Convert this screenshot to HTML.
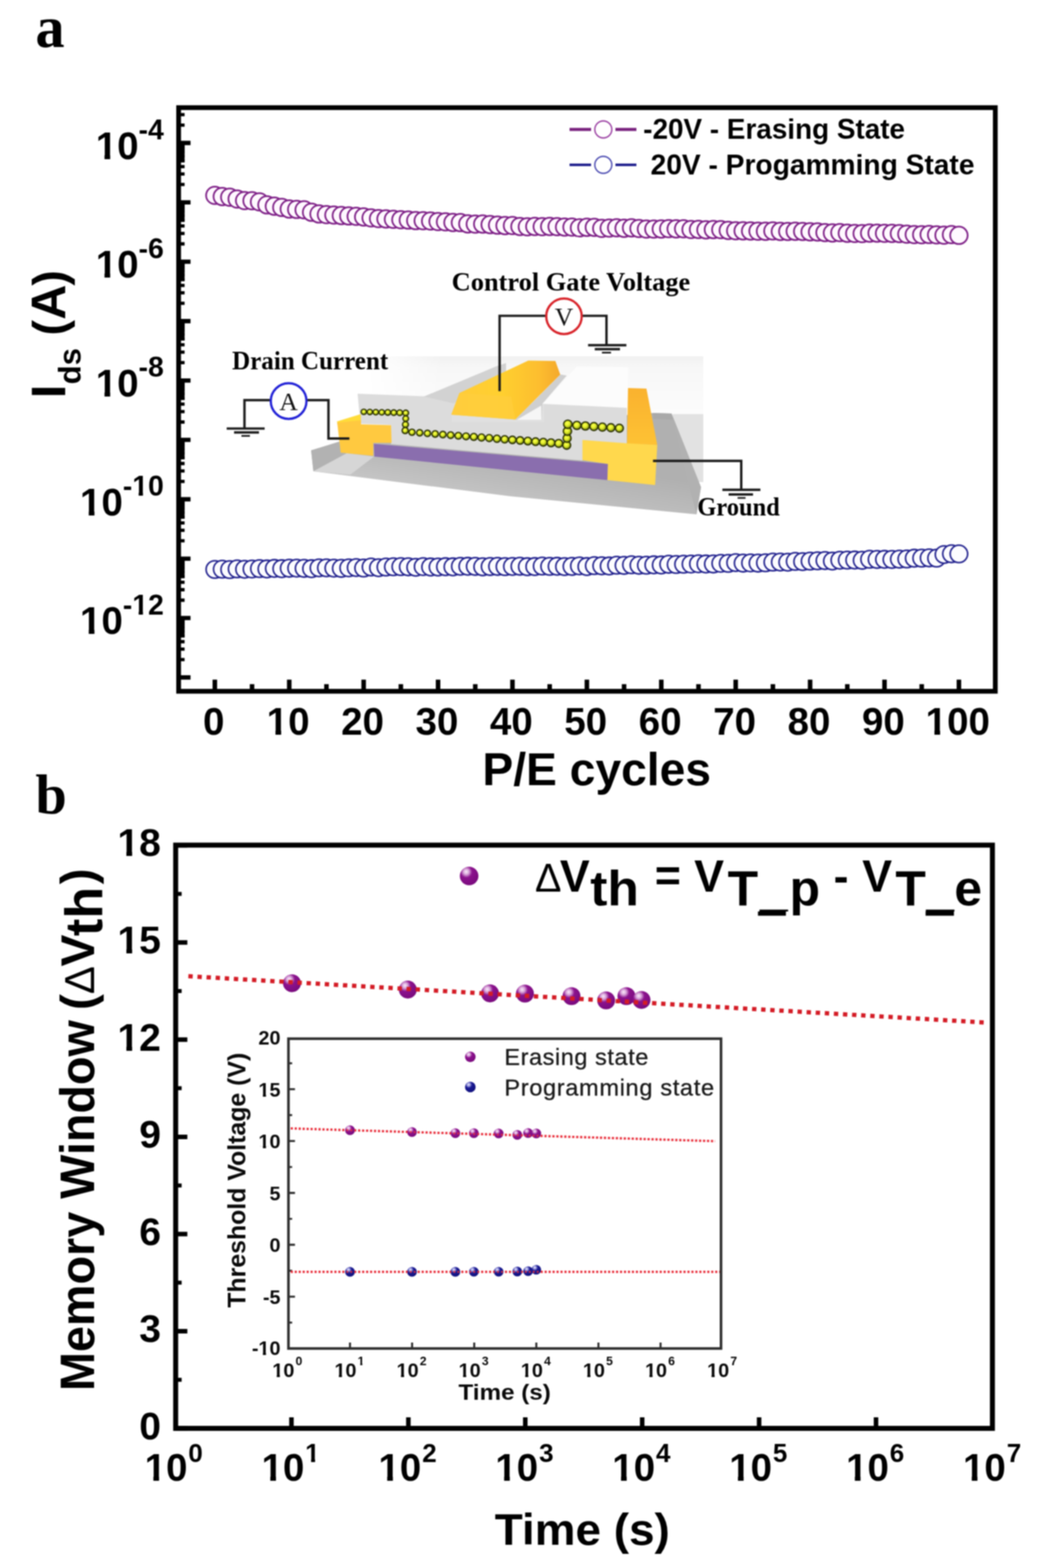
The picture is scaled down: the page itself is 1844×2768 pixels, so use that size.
<!DOCTYPE html>
<html lang="en">
<head>
<meta charset="utf-8">
<title>P/E cycle endurance and retention</title>
<style>
html,body{margin:0;padding:0;background:#fff;}
svg{display:block;}
.sb{font-family:"Liberation Sans",sans-serif;font-weight:700;fill:#000;}
.sr{font-family:"Liberation Sans",sans-serif;font-weight:400;fill:#111;}
.tb{font-family:"Liberation Serif",serif;font-weight:700;fill:#000;}
.tr{font-family:"Liberation Serif",serif;font-weight:400;fill:#111;}
</style>
</head>
<body>
<svg width="1844" height="2768" viewBox="0 0 1844 2768">
<rect x="0" y="0" width="1844" height="2768" fill="#ffffff"/>
<defs><filter id="soft" x="0" y="0" width="1844" height="2768" filterUnits="userSpaceOnUse" color-interpolation-filters="sRGB"><feGaussianBlur stdDeviation="0.85"/></filter></defs>
<g filter="url(#soft)">
<g id="panel-a">
<text class="tb" x="62.5" y="82.5" font-size="103">a</text>
<path d="M315.2 252.4H336.2M315.2 357.23H336.2M315.2 462.06H336.2M315.2 566.89H336.2M315.2 671.72H336.2M315.2 776.55H336.2M315.2 881.38H336.2M315.2 986.21H336.2M315.2 1091.04H336.2M315.2 1195.87H336.2" stroke="#000" stroke-width="7.6" fill="none"/>
<path d="M315.2 220.84H325.7M315.2 202.38H325.7M315.2 325.67H325.7M315.2 307.21H325.7M315.2 294.12H325.7M315.2 283.96H325.7M315.2 275.66H325.7M315.2 268.64H325.7M315.2 262.56H325.7M315.2 257.2H325.7M315.2 430.5H325.7M315.2 412.04H325.7M315.2 398.95H325.7M315.2 388.79H325.7M315.2 380.49H325.7M315.2 373.47H325.7M315.2 367.39H325.7M315.2 362.03H325.7M315.2 535.33H325.7M315.2 516.87H325.7M315.2 503.78H325.7M315.2 493.62H325.7M315.2 485.32H325.7M315.2 478.3H325.7M315.2 472.22H325.7M315.2 466.86H325.7M315.2 640.16H325.7M315.2 621.7H325.7M315.2 608.61H325.7M315.2 598.45H325.7M315.2 590.15H325.7M315.2 583.13H325.7M315.2 577.05H325.7M315.2 571.69H325.7M315.2 744.99H325.7M315.2 726.53H325.7M315.2 713.44H325.7M315.2 703.28H325.7M315.2 694.98H325.7M315.2 687.96H325.7M315.2 681.88H325.7M315.2 676.52H325.7M315.2 849.82H325.7M315.2 831.36H325.7M315.2 818.27H325.7M315.2 808.11H325.7M315.2 799.81H325.7M315.2 792.79H325.7M315.2 786.71H325.7M315.2 781.35H325.7M315.2 954.65H325.7M315.2 936.19H325.7M315.2 923.1H325.7M315.2 912.94H325.7M315.2 904.64H325.7M315.2 897.62H325.7M315.2 891.54H325.7M315.2 886.18H325.7M315.2 1059.48H325.7M315.2 1041.02H325.7M315.2 1027.93H325.7M315.2 1017.77H325.7M315.2 1009.47H325.7M315.2 1002.45H325.7M315.2 996.37H325.7M315.2 991.01H325.7M315.2 1164.31H325.7M315.2 1145.85H325.7M315.2 1132.76H325.7M315.2 1122.6H325.7M315.2 1114.3H325.7M315.2 1107.28H325.7M315.2 1101.2H325.7M315.2 1095.84H325.7" stroke="#000" stroke-width="5.8" fill="none"/>
<path d="M322.2 252.4V286.36M322.2 357.23V391.19M322.2 462.06V496.02M322.2 566.89V600.85M322.2 671.72V705.68M322.2 776.55V810.51M322.2 881.38V915.34M322.2 986.21V1020.17M322.2 1091.04V1125" stroke="#000" stroke-width="7" fill="none"/>
<path d="M379.1 1220.3V1199.8M510.4 1220.3V1199.8M641.7 1220.3V1199.8M773 1220.3V1199.8M904.3 1220.3V1199.8M1035.6 1220.3V1199.8M1166.9 1220.3V1199.8M1298.2 1220.3V1199.8M1429.5 1220.3V1199.8M1560.8 1220.3V1199.8M1692.1 1220.3V1199.8" stroke="#000" stroke-width="8" fill="none"/>
<path d="M444.75 1220.3V1207.8M576.05 1220.3V1207.8M707.35 1220.3V1207.8M838.65 1220.3V1207.8M969.95 1220.3V1207.8M1101.25 1220.3V1207.8M1232.55 1220.3V1207.8M1363.85 1220.3V1207.8M1495.15 1220.3V1207.8M1626.45 1220.3V1207.8" stroke="#000" stroke-width="8" fill="none"/>
<rect x="315.2" y="190" width="1441.1" height="1030.3" fill="none" stroke="#000" stroke-width="8.4"/>
<text class="sb" x="168.91" y="280.6" font-size="68">10<tspan font-size="50" dy="-34.5">-4</tspan></text><path d="M171.99 273.06H184.43V282H171.99ZM194.46 273.06H206.03V282H194.46Z" fill="#fff"/>
<text class="sb" x="168.91" y="490.26" font-size="68">10<tspan font-size="50" dy="-34.5">-6</tspan></text><path d="M171.99 482.72H184.43V491.66H171.99ZM194.46 482.72H206.03V491.66H194.46Z" fill="#fff"/>
<text class="sb" x="168.91" y="699.92" font-size="68">10<tspan font-size="50" dy="-34.5">-8</tspan></text><path d="M171.99 692.38H184.43V701.32H171.99ZM194.46 692.38H206.03V701.32H194.46Z" fill="#fff"/>
<text class="sb" x="141.1" y="909.58" font-size="68">10<tspan font-size="50" dy="-34.5">-10</tspan></text><path d="M144.18 902.04H156.62V910.98H144.18ZM166.65 902.04H178.22V910.98H166.65ZM235.33 869.38H244.7V876.48H235.33ZM252.27 869.38H261V876.48H252.27Z" fill="#fff"/>
<text class="sb" x="141.1" y="1119.24" font-size="68">10<tspan font-size="50" dy="-34.5">-12</tspan></text><path d="M144.18 1111.7H156.62V1120.64H144.18ZM166.65 1111.7H178.22V1120.64H166.65ZM235.33 1079.04H244.7V1086.14H235.33ZM252.27 1079.04H261V1086.14H252.27Z" fill="#fff"/>
<text class="sb" x="358.19" y="1297" font-size="68">0</text>
<text class="sb" x="470.58" y="1297" font-size="68">10</text><path d="M473.66 1289.46H486.1V1298.4H473.66ZM496.13 1289.46H507.71V1298.4H496.13Z" fill="#fff"/>
<text class="sb" x="601.88" y="1297" font-size="68">20</text>
<text class="sb" x="733.18" y="1297" font-size="68">30</text>
<text class="sb" x="864.48" y="1297" font-size="68">40</text>
<text class="sb" x="995.78" y="1297" font-size="68">50</text>
<text class="sb" x="1127.08" y="1297" font-size="68">60</text>
<text class="sb" x="1258.38" y="1297" font-size="68">70</text>
<text class="sb" x="1389.68" y="1297" font-size="68">80</text>
<text class="sb" x="1520.98" y="1297" font-size="68">90</text>
<text class="sb" x="1633.37" y="1297" font-size="68">100</text><path d="M1636.46 1289.46H1648.89V1298.4H1636.46ZM1658.92 1289.46H1670.5V1298.4H1658.92Z" fill="#fff"/>
<text class="sb" x="1053" y="1386" font-size="81.5" text-anchor="middle">P/E cycles</text>
<text class="sb" transform="translate(114.7 703) rotate(-90)" font-size="82"><tspan x="0" y="0" font-size="86">I</tspan><tspan x="24.5" y="27.7" font-size="55">ds</tspan> <tspan x="110.7" y="0">(</tspan><tspan x="138.6" y="0" font-size="86">A</tspan><tspan x="198.8" y="0">)</tspan></text>
<g id="series-prog" fill="#fcfcff" stroke="#22228e" stroke-width="2.8">
<circle cx="379.1" cy="1005.25" r="15.4"/><circle cx="392.23" cy="1004.77" r="15.4"/><circle cx="405.36" cy="1005.5" r="15.4"/><circle cx="418.49" cy="1004.29" r="15.4"/><circle cx="431.62" cy="1004.95" r="15.4"/><circle cx="444.75" cy="1004.48" r="15.4"/><circle cx="457.88" cy="1003.75" r="15.4"/><circle cx="471.01" cy="1004.39" r="15.4"/><circle cx="484.14" cy="1003.38" r="15.4"/><circle cx="497.27" cy="1003.92" r="15.4"/>
<circle cx="510.4" cy="1003.1" r="15.4"/><circle cx="523.53" cy="1002.96" r="15.4"/><circle cx="536.66" cy="1003.37" r="15.4"/><circle cx="549.79" cy="1003.9" r="15.4"/><circle cx="562.92" cy="1002.44" r="15.4"/><circle cx="576.05" cy="1002.43" r="15.4"/><circle cx="589.18" cy="1002.96" r="15.4"/><circle cx="602.31" cy="1003.35" r="15.4"/><circle cx="615.44" cy="1002.49" r="15.4"/><circle cx="628.57" cy="1001.97" r="15.4"/>
<circle cx="641.7" cy="1002.82" r="15.4"/><circle cx="654.83" cy="1000.95" r="15.4"/><circle cx="667.96" cy="1002.22" r="15.4"/><circle cx="681.09" cy="1001" r="15.4"/><circle cx="694.22" cy="1000.55" r="15.4"/><circle cx="707.35" cy="1000.31" r="15.4"/><circle cx="720.48" cy="1000.59" r="15.4"/><circle cx="733.61" cy="1001.44" r="15.4"/><circle cx="746.74" cy="1000.23" r="15.4"/><circle cx="759.87" cy="1000.89" r="15.4"/>
<circle cx="773" cy="1000.93" r="15.4"/><circle cx="786.13" cy="1000.38" r="15.4"/><circle cx="799.26" cy="1000.63" r="15.4"/><circle cx="812.39" cy="999.7" r="15.4"/><circle cx="825.52" cy="999.63" r="15.4"/><circle cx="838.65" cy="999.83" r="15.4"/><circle cx="851.78" cy="1000.62" r="15.4"/><circle cx="864.91" cy="1000.1" r="15.4"/><circle cx="878.04" cy="999.83" r="15.4"/><circle cx="891.17" cy="1000.25" r="15.4"/>
<circle cx="904.3" cy="999.94" r="15.4"/><circle cx="917.43" cy="999.59" r="15.4"/><circle cx="930.56" cy="1000.41" r="15.4"/><circle cx="943.69" cy="1000.16" r="15.4"/><circle cx="956.82" cy="999.27" r="15.4"/><circle cx="969.95" cy="999.79" r="15.4"/><circle cx="983.08" cy="999.63" r="15.4"/><circle cx="996.21" cy="1000.19" r="15.4"/><circle cx="1009.34" cy="999.85" r="15.4"/><circle cx="1022.47" cy="998.98" r="15.4"/>
<circle cx="1035.6" cy="1000.15" r="15.4"/><circle cx="1048.73" cy="998.53" r="15.4"/><circle cx="1061.86" cy="998.83" r="15.4"/><circle cx="1074.99" cy="999.16" r="15.4"/><circle cx="1088.12" cy="997.79" r="15.4"/><circle cx="1101.25" cy="998.11" r="15.4"/><circle cx="1114.38" cy="997.02" r="15.4"/><circle cx="1127.51" cy="997.87" r="15.4"/><circle cx="1140.64" cy="997.76" r="15.4"/><circle cx="1153.77" cy="997.13" r="15.4"/>
<circle cx="1166.9" cy="997.4" r="15.4"/><circle cx="1180.03" cy="996.1" r="15.4"/><circle cx="1193.16" cy="996.51" r="15.4"/><circle cx="1206.29" cy="996.04" r="15.4"/><circle cx="1219.42" cy="995.73" r="15.4"/><circle cx="1232.55" cy="995.24" r="15.4"/><circle cx="1245.68" cy="995.67" r="15.4"/><circle cx="1258.81" cy="995.59" r="15.4"/><circle cx="1271.94" cy="994.48" r="15.4"/><circle cx="1285.07" cy="994.56" r="15.4"/>
<circle cx="1298.2" cy="993.2" r="15.4"/><circle cx="1311.33" cy="994.09" r="15.4"/><circle cx="1324.46" cy="993.73" r="15.4"/><circle cx="1337.59" cy="994.09" r="15.4"/><circle cx="1350.72" cy="993.51" r="15.4"/><circle cx="1363.85" cy="992.28" r="15.4"/><circle cx="1376.98" cy="992.2" r="15.4"/><circle cx="1390.11" cy="992.44" r="15.4"/><circle cx="1403.24" cy="991.02" r="15.4"/><circle cx="1416.37" cy="991.46" r="15.4"/>
<circle cx="1429.5" cy="990.54" r="15.4"/><circle cx="1442.63" cy="990.07" r="15.4"/><circle cx="1455.76" cy="989.58" r="15.4"/><circle cx="1468.89" cy="990.47" r="15.4"/><circle cx="1482.02" cy="988.93" r="15.4"/><circle cx="1495.15" cy="988.76" r="15.4"/><circle cx="1508.28" cy="988.63" r="15.4"/><circle cx="1521.41" cy="989.11" r="15.4"/><circle cx="1534.54" cy="987.3" r="15.4"/><circle cx="1547.67" cy="987.58" r="15.4"/>
<circle cx="1560.8" cy="987.38" r="15.4"/><circle cx="1573.93" cy="987.59" r="15.4"/><circle cx="1587.06" cy="987.09" r="15.4"/><circle cx="1600.19" cy="986.82" r="15.4"/><circle cx="1613.32" cy="985.42" r="15.4"/><circle cx="1626.45" cy="985.32" r="15.4"/><circle cx="1639.58" cy="984.85" r="15.4"/><circle cx="1652.71" cy="985.32" r="15.4"/><circle cx="1665.84" cy="978.93" r="15.4"/><circle cx="1678.97" cy="977.62" r="15.4"/>
<circle cx="1692.1" cy="977.81" r="15.4"/>
</g>
<g id="series-erase" fill="#fff9ff" stroke="#7e2087" stroke-width="3.0">
<circle cx="379.1" cy="344.9" r="15.4"/><circle cx="392.23" cy="347" r="15.4"/><circle cx="405.36" cy="348.1" r="15.4"/><circle cx="418.49" cy="351.3" r="15.4"/><circle cx="431.62" cy="354.1" r="15.4"/><circle cx="444.75" cy="354.3" r="15.4"/><circle cx="457.88" cy="356.4" r="15.4"/><circle cx="471.01" cy="361.7" r="15.4"/><circle cx="484.14" cy="364" r="15.4"/><circle cx="497.27" cy="366.2" r="15.4"/>
<circle cx="510.4" cy="369" r="15.4"/><circle cx="523.53" cy="369.7" r="15.4"/><circle cx="536.66" cy="370.4" r="15.4"/><circle cx="549.79" cy="374.7" r="15.4"/><circle cx="562.92" cy="377.7" r="15.4"/><circle cx="576.05" cy="378.9" r="15.4"/><circle cx="589.18" cy="379.6" r="15.4"/><circle cx="602.31" cy="380.5" r="15.4"/><circle cx="615.44" cy="381.2" r="15.4"/><circle cx="628.57" cy="381.9" r="15.4"/>
<circle cx="641.7" cy="383" r="15.4"/><circle cx="654.83" cy="384.6" r="15.4"/><circle cx="667.96" cy="385.8" r="15.4"/><circle cx="681.09" cy="386.5" r="15.4"/><circle cx="694.22" cy="387.1" r="15.4"/><circle cx="707.35" cy="387.8" r="15.4"/><circle cx="720.48" cy="388.47" r="15.4"/><circle cx="733.61" cy="389.44" r="15.4"/><circle cx="746.74" cy="389.58" r="15.4"/><circle cx="759.87" cy="390.14" r="15.4"/>
<circle cx="773" cy="391.07" r="15.4"/><circle cx="786.13" cy="391.64" r="15.4"/><circle cx="799.26" cy="392.77" r="15.4"/><circle cx="812.39" cy="392.95" r="15.4"/><circle cx="825.52" cy="395.26" r="15.4"/><circle cx="838.65" cy="395.58" r="15.4"/><circle cx="851.78" cy="395.52" r="15.4"/><circle cx="864.91" cy="396.49" r="15.4"/><circle cx="878.04" cy="397.45" r="15.4"/><circle cx="891.17" cy="398.26" r="15.4"/>
<circle cx="904.3" cy="398.15" r="15.4"/><circle cx="917.43" cy="399.79" r="15.4"/><circle cx="930.56" cy="400.38" r="15.4"/><circle cx="943.69" cy="399.76" r="15.4"/><circle cx="956.82" cy="400.12" r="15.4"/><circle cx="969.95" cy="399.73" r="15.4"/><circle cx="983.08" cy="400.09" r="15.4"/><circle cx="996.21" cy="400.79" r="15.4"/><circle cx="1009.34" cy="400.92" r="15.4"/><circle cx="1022.47" cy="402.2" r="15.4"/>
<circle cx="1035.6" cy="401.26" r="15.4"/><circle cx="1048.73" cy="401.28" r="15.4"/><circle cx="1061.86" cy="403.16" r="15.4"/><circle cx="1074.99" cy="402.59" r="15.4"/><circle cx="1088.12" cy="402.09" r="15.4"/><circle cx="1101.25" cy="403" r="15.4"/><circle cx="1114.38" cy="402.26" r="15.4"/><circle cx="1127.51" cy="403.35" r="15.4"/><circle cx="1140.64" cy="404.35" r="15.4"/><circle cx="1153.77" cy="404.34" r="15.4"/>
<circle cx="1166.9" cy="404.23" r="15.4"/><circle cx="1180.03" cy="403.64" r="15.4"/><circle cx="1193.16" cy="404.02" r="15.4"/><circle cx="1206.29" cy="403.85" r="15.4"/><circle cx="1219.42" cy="405.13" r="15.4"/><circle cx="1232.55" cy="404.98" r="15.4"/><circle cx="1245.68" cy="405.74" r="15.4"/><circle cx="1258.81" cy="405.26" r="15.4"/><circle cx="1271.94" cy="405.39" r="15.4"/><circle cx="1285.07" cy="406.77" r="15.4"/>
<circle cx="1298.2" cy="407.4" r="15.4"/><circle cx="1311.33" cy="407.49" r="15.4"/><circle cx="1324.46" cy="407.73" r="15.4"/><circle cx="1337.59" cy="408.07" r="15.4"/><circle cx="1350.72" cy="408.25" r="15.4"/><circle cx="1363.85" cy="407.65" r="15.4"/><circle cx="1376.98" cy="408.5" r="15.4"/><circle cx="1390.11" cy="408.53" r="15.4"/><circle cx="1403.24" cy="408.26" r="15.4"/><circle cx="1416.37" cy="408.54" r="15.4"/>
<circle cx="1429.5" cy="409.26" r="15.4"/><circle cx="1442.63" cy="409.48" r="15.4"/><circle cx="1455.76" cy="410.53" r="15.4"/><circle cx="1468.89" cy="411.27" r="15.4"/><circle cx="1482.02" cy="410.61" r="15.4"/><circle cx="1495.15" cy="411.76" r="15.4"/><circle cx="1508.28" cy="412.12" r="15.4"/><circle cx="1521.41" cy="412.32" r="15.4"/><circle cx="1534.54" cy="411.52" r="15.4"/><circle cx="1547.67" cy="411.53" r="15.4"/>
<circle cx="1560.8" cy="411.8" r="15.4"/><circle cx="1573.93" cy="412.01" r="15.4"/><circle cx="1587.06" cy="412.29" r="15.4"/><circle cx="1600.19" cy="413.33" r="15.4"/><circle cx="1613.32" cy="414.12" r="15.4"/><circle cx="1626.45" cy="414.31" r="15.4"/><circle cx="1639.58" cy="413.96" r="15.4"/><circle cx="1652.71" cy="414.57" r="15.4"/><circle cx="1665.84" cy="415.13" r="15.4"/><circle cx="1678.97" cy="414.14" r="15.4"/>
<circle cx="1692.1" cy="415.47" r="15.4"/>
</g>
<g id="legend-a">
<path d="M1005 228.5H1043M1086 228.5H1123" stroke="#7a237f" stroke-width="5.5" fill="none"/>
<circle cx="1064.6" cy="228.5" r="15" fill="#fff" stroke="#9a3fa2" stroke-width="2.4"/>
<path d="M1005 291H1043M1086 291H1123" stroke="#1c1c8c" stroke-width="4.6" fill="none"/>
<circle cx="1064.6" cy="291" r="15" fill="#fff" stroke="#4a4ab0" stroke-width="2.4"/>
<text class="sb" x="1135" y="245" font-size="49.2">-20V - Erasing State</text>
<text class="sb" x="1148" y="307.5" font-size="49.7">20V - Progamming State</text>
</g>
</g>
<g id="device">
<defs>
<linearGradient id="gBg" x1="0" y1="0" x2="0" y2="1"><stop offset="0" stop-color="#f1f1f1"/><stop offset="0.1" stop-color="#f7f7f7"/><stop offset="0.6" stop-color="#fdfdfd"/><stop offset="1" stop-color="#ffffff"/></linearGradient>
<linearGradient id="gBgL" x1="0" y1="0" x2="1" y2="0"><stop offset="0" stop-color="#fff" stop-opacity="1"/><stop offset="1" stop-color="#fff" stop-opacity="0"/></linearGradient>
<linearGradient id="gGate" x1="0" y1="0" x2="1" y2="0"><stop offset="0" stop-color="#ffcb3a"/><stop offset="0.45" stop-color="#ffd02f"/><stop offset="0.8" stop-color="#fdbe2f"/><stop offset="1" stop-color="#f4a92c"/></linearGradient>
<linearGradient id="gTall" x1="0" y1="0" x2="0" y2="1"><stop offset="0" stop-color="#fab22f"/><stop offset="1" stop-color="#fec234"/></linearGradient>
<radialGradient id="gDot" cx="0.42" cy="0.38" r="0.62"><stop offset="0" stop-color="#faff55"/><stop offset="0.45" stop-color="#e4f02a"/><stop offset="0.8" stop-color="#9aa818"/><stop offset="1" stop-color="#4a5308"/></radialGradient>
<linearGradient id="gBase" gradientUnits="userSpaceOnUse" x1="800" y1="780" x2="780" y2="900"><stop offset="0" stop-color="#b0b0b0"/><stop offset="0.45" stop-color="#bcbcbc"/><stop offset="1" stop-color="#cdcdcd"/></linearGradient>
</defs>
<rect x="650" y="629" width="591" height="190" fill="url(#gBg)"/>
<rect x="650" y="629" width="130" height="190" fill="url(#gBgL)"/>
<rect x="1187" y="731" width="54" height="120" fill="#e2e2e2"/>
<polygon points="958.9,712.5 1017.9,646.9 1108.9,648.2 1107.6,719.2" fill="#fcfcfc"/>
<polygon points="549,795 600,779 760,760 1152,729 1185,730 1237,860 1229,908 900,876 553,832" fill="url(#gBase)"/>
<polygon points="549,795 597,781 612,800 553,832" fill="#b2b2b2"/>
<polygon points="553,832 612,800 660,806 618,838" fill="#d6d6d6"/>
<polygon points="1152,729 1185,730 1188,741 1152,739.5" fill="#a9a9a9"/>
<polygon points="1185,730 1237,860 1229,908 1217,862" fill="#b1b1b1"/>
<polygon points="631,695 760,700 875,647 893,641 893,668 812,712 960,713 1106,720 1106,784 1028,777 1028,813 690,784 690,750 636,748 633,717" fill="#dcdcdc"/>
<polygon points="748,700 875,647 893,641 893,664 800,712" fill="#d2d2d2"/>
<polygon points="797,732 909,741 955,741 955,713 960,713 960,745 797,745" fill="#e0e0e0"/>
<polygon points="909,741 989,661 1000,663 957,713 955,741" fill="#cfcfcf"/>
<polygon points="912,741 955,716 955,741" fill="#f6f6f6"/>
<polygon points="796.4,732 810.7,693.8 932.2,636.4 980,637.3 988.6,661.2 909.2,740.6" fill="url(#gGate)"/>
<polygon points="796.4,732 810.7,693.8 902,700 909.2,740.6" fill="#ffcd3e" opacity="0.75"/>
<polygon points="659.6,783.4 1072.8,818.9 1071.8,847.6 660.5,806" fill="#8a6eae"/>
<polygon points="594.5,744 636.6,731 637,748 597,754" fill="#ffdc3a"/>
<polygon points="595,746 637,742 637,749 690,750.5 691,781.8 658.6,781.8 658.6,804.8 601.2,799" fill="#ffc940"/>
<polygon points="1108.2,685 1140.7,685.9 1159.8,785.4 1106.3,783.5" fill="url(#gTall)"/>
<polygon points="1027.8,776.8 1105.3,782.5 1159.8,785.4 1156,856.2 1071.8,847.6 1072.8,818.9 1027.8,812.2" fill="#ffd84d"/>
<g fill="url(#gDot)" stroke="#2c3204" stroke-width="2.3">
<circle cx="642" cy="727" r="4.7"/><circle cx="652.6" cy="727.3" r="4.7"/><circle cx="663.1" cy="727.6" r="4.8"/><circle cx="673.7" cy="727.9" r="4.8"/><circle cx="684.3" cy="728.1" r="4.9"/><circle cx="694.9" cy="728.4" r="4.9"/><circle cx="705.4" cy="728.7" r="5"/><circle cx="716" cy="729" r="5"/>
<circle cx="716" cy="739" r="5"/><circle cx="715.5" cy="749.5" r="5.2"/><circle cx="715" cy="760" r="5.4"/>
<circle cx="727" cy="763" r="5.4"/><circle cx="740.6" cy="764" r="5.5"/><circle cx="754.3" cy="765.1" r="5.6"/><circle cx="767.9" cy="766.1" r="5.7"/><circle cx="781.5" cy="767.2" r="5.7"/><circle cx="795.2" cy="768.2" r="5.8"/><circle cx="808.8" cy="769.3" r="5.9"/><circle cx="822.4" cy="770.3" r="6"/><circle cx="836.1" cy="771.3" r="6.1"/><circle cx="849.7" cy="772.4" r="6.2"/><circle cx="863.3" cy="773.4" r="6.2"/><circle cx="876.9" cy="774.5" r="6.3"/><circle cx="890.6" cy="775.5" r="6.4"/><circle cx="904.2" cy="776.5" r="6.5"/><circle cx="917.8" cy="777.6" r="6.6"/><circle cx="931.5" cy="778.6" r="6.7"/><circle cx="945.1" cy="779.7" r="6.7"/><circle cx="958.7" cy="780.7" r="6.8"/><circle cx="972.4" cy="781.8" r="6.9"/><circle cx="986" cy="782.8" r="7"/>
<circle cx="1000" cy="786" r="7"/><circle cx="1000.7" cy="773.7" r="7.1"/><circle cx="1001.3" cy="761.3" r="7.3"/><circle cx="1002" cy="749" r="7.4"/>
<circle cx="1018" cy="751" r="7.2"/><circle cx="1033" cy="752" r="7.2"/><circle cx="1048" cy="753" r="7.1"/><circle cx="1063" cy="754" r="7.1"/><circle cx="1078" cy="755" r="7"/><circle cx="1093" cy="756" r="7"/>
</g>
<g fill="none" stroke="#1a1a1a" stroke-width="4.2">
<path d="M476 706.3H431.4V756.5M400 756.5H467M413 763.3H457" />
<path d="M426 769.5H441" stroke-width="3"/>
<path d="M542 706.3H579.6V774.2H616.5"/>
<path d="M962 557.5H881.6V690.5"/>
<path d="M1028 557.5H1070.2V609.4M1037.7 609.4H1105.3M1049.5 616.4H1094"/>
<path d="M1062.2 622.5H1078.2" stroke-width="3"/>
<path d="M1152.3 813.6H1308V864.6M1274.7 864.6H1341.8M1285.7 872.8H1328.8"/>
<path d="M1301.5 879H1315.6" stroke-width="3"/>
</g>
<circle cx="509.3" cy="708" r="31.5" fill="#fff" stroke="#2121d6" stroke-width="4"/>
<text class="tr" x="509.3" y="723.5" font-size="45" text-anchor="middle">A</text>
<circle cx="995.2" cy="558.4" r="31.3" fill="#fff" stroke="#d8232a" stroke-width="4"/>
<text class="tr" x="995.2" y="574" font-size="45" text-anchor="middle">V</text>
<text class="tb" x="797" y="513" font-size="45.5" textLength="421" lengthAdjust="spacingAndGlyphs">Control Gate Voltage</text>
<text class="tb" x="409.5" y="652" font-size="45.5" textLength="275.5" lengthAdjust="spacingAndGlyphs">Drain Current</text>
<text class="tb" x="1230.5" y="910" font-size="45.5" textLength="145.5" lengthAdjust="spacingAndGlyphs">Ground</text>
</g>
<g id="panel-b">
<defs>
<radialGradient id="gP" cx="0.36" cy="0.30" r="0.75" fx="0.34" fy="0.27"><stop offset="0" stop-color="#fbeefb"/><stop offset="0.2" stop-color="#d8a4d9"/><stop offset="0.42" stop-color="#8b128d"/><stop offset="1" stop-color="#780a7c"/></radialGradient>
<radialGradient id="gN" cx="0.36" cy="0.30" r="0.75" fx="0.34" fy="0.27"><stop offset="0" stop-color="#eeeefc"/><stop offset="0.2" stop-color="#9a9ade"/><stop offset="0.42" stop-color="#1a1a92"/><stop offset="1" stop-color="#10107c"/></radialGradient>
</defs>
<text class="tb" x="62.5" y="1435.5" font-size="99.5">b</text>
<path d="M310 2521.5H330.6M310 2349.96H330.6M310 2178.42H330.6M310 2006.88H330.6M310 1835.34H330.6M310 1663.8H330.6M310 1492.26H330.6M514.3 2521.5V2502M720.6 2521.5V2502M926.9 2521.5V2502M1133.2 2521.5V2502M1339.5 2521.5V2502M1545.8 2521.5V2502" stroke="#000" stroke-width="8" fill="none"/>
<path d="M310 2435.73H320.5M310 2264.19H320.5M310 2092.65H320.5M310 1921.11H320.5M310 1749.57H320.5M310 1578.03H320.5" stroke="#000" stroke-width="7" fill="none"/>
<rect x="310" y="1491.9" width="1441.2" height="1029.6" fill="none" stroke="#000" stroke-width="8.8"/>
<text class="sb" x="245.63" y="2540.7" font-size="69">0</text>
<text class="sb" x="245.63" y="2369.16" font-size="69">3</text>
<text class="sb" x="245.63" y="2197.62" font-size="69">6</text>
<text class="sb" x="245.63" y="2026.08" font-size="69">9</text>
<text class="sb" x="207.25" y="1854.54" font-size="69">12</text><path d="M210.4 1846.9H223.01V1855.94H210.4ZM233.17 1846.9H244.91V1855.94H233.17Z" fill="#fff"/>
<text class="sb" x="207.25" y="1683" font-size="69">15</text><path d="M210.4 1675.36H223.01V1684.4H210.4ZM233.17 1675.36H244.91V1684.4H233.17Z" fill="#fff"/>
<text class="sb" x="207.25" y="1511.46" font-size="69">18</text><path d="M210.4 1503.82H223.01V1512.86H210.4ZM233.17 1503.82H244.91V1512.86H233.17Z" fill="#fff"/>
<text class="sb" x="255.14" y="2614.3" font-size="68">10<tspan font-size="46" dx="1.5" dy="-33.5">0</tspan></text><path d="M258.22 2606.76H270.66V2615.7H258.22ZM280.69 2606.76H292.27V2615.7H280.69Z" fill="#fff"/>
<text class="sb" x="461.44" y="2614.3" font-size="68">10<tspan font-size="46" dx="1.5" dy="-33.5">1</tspan></text><path d="M464.52 2606.76H476.96V2615.7H464.52ZM486.99 2606.76H498.57V2615.7H486.99ZM540.27 2575.51H548.96V2582.2H540.27ZM555.97 2575.51H564.08V2582.2H555.97Z" fill="#fff"/>
<text class="sb" x="667.74" y="2614.3" font-size="68">10<tspan font-size="46" dx="1.5" dy="-33.5">2</tspan></text><path d="M670.82 2606.76H683.26V2615.7H670.82ZM693.29 2606.76H704.87V2615.7H693.29Z" fill="#fff"/>
<text class="sb" x="874.04" y="2614.3" font-size="68">10<tspan font-size="46" dx="1.5" dy="-33.5">3</tspan></text><path d="M877.12 2606.76H889.56V2615.7H877.12ZM899.59 2606.76H911.17V2615.7H899.59Z" fill="#fff"/>
<text class="sb" x="1080.34" y="2614.3" font-size="68">10<tspan font-size="46" dx="1.5" dy="-33.5">4</tspan></text><path d="M1083.42 2606.76H1095.86V2615.7H1083.42ZM1105.89 2606.76H1117.47V2615.7H1105.89Z" fill="#fff"/>
<text class="sb" x="1286.64" y="2614.3" font-size="68">10<tspan font-size="46" dx="1.5" dy="-33.5">5</tspan></text><path d="M1289.72 2606.76H1302.16V2615.7H1289.72ZM1312.19 2606.76H1323.77V2615.7H1312.19Z" fill="#fff"/>
<text class="sb" x="1492.94" y="2614.3" font-size="68">10<tspan font-size="46" dx="1.5" dy="-33.5">6</tspan></text><path d="M1496.02 2606.76H1508.46V2615.7H1496.02ZM1518.49 2606.76H1530.07V2615.7H1518.49Z" fill="#fff"/>
<text class="sb" x="1699.24" y="2614.3" font-size="68">10<tspan font-size="46" dx="1.5" dy="-33.5">7</tspan></text><path d="M1702.32 2606.76H1714.76V2615.7H1702.32ZM1724.79 2606.76H1736.37V2615.7H1724.79Z" fill="#fff"/>
<text class="sb" x="1027.5" y="2727" font-size="78" text-anchor="middle" textLength="309" lengthAdjust="spacingAndGlyphs">Time (s)</text>
<text class="sb" transform="translate(166 2455.5) rotate(-90)" font-size="84"><tspan x="0" y="0" font-size="85.5" textLength="654.7" lengthAdjust="spacingAndGlyphs">Memory Window</tspan> <tspan x="672.5" y="0">(</tspan><tspan x="700.5" y="0" font-size="74" font-weight="400">Δ</tspan><tspan x="749.5" y="0">V</tspan><tspan x="803" y="13.5" font-size="92">th</tspan><tspan x="894.5" y="0">)</tspan></text>
<g id="retention-points">
<circle cx="515.2" cy="1735.7" r="15.8" fill="url(#gP)"/><circle cx="719.6" cy="1746.9" r="15.8" fill="url(#gP)"/><circle cx="864.7" cy="1753.6" r="15.8" fill="url(#gP)"/><circle cx="926.3" cy="1754" r="15.8" fill="url(#gP)"/><circle cx="1008.5" cy="1758.5" r="15.8" fill="url(#gP)"/><circle cx="1105.4" cy="1758.5" r="15.8" fill="url(#gP)"/><circle cx="1069.6" cy="1766" r="15.8" fill="url(#gP)"/><circle cx="1132" cy="1765.2" r="15.8" fill="url(#gP)"/>
</g>
<path d="M332.4 1723.3L1743 1805.3" stroke="#d41c26" stroke-width="7.5" stroke-dasharray="7.7 8.37" fill="none"/>
<circle cx="827.8" cy="1546.3" r="16.4" fill="url(#gP)"/>
<text class="sb" font-size="78.8"><tspan x="944" y="1573.5" font-size="70" font-weight="400">Δ</tspan><tspan x="988" y="1574">V</tspan><tspan x="1041.5" y="1598" font-size="88" textLength="86" lengthAdjust="spacingAndGlyphs">th</tspan> <tspan x="1155.5" y="1572">=</tspan> <tspan x="1225" y="1574">V</tspan><tspan x="1284" y="1597.5" font-size="88" textLength="163" lengthAdjust="spacing">T_p</tspan> <tspan x="1471" y="1574">-</tspan> <tspan x="1521.5" y="1574">V</tspan><tspan x="1580" y="1597.5" font-size="88" textLength="153" lengthAdjust="spacing">T_e</tspan></text>
<path d="M1337.5 1612.8H1386.8M1633.3 1612.8H1683.3" stroke="#000" stroke-width="7.4" fill="none"/>
</g>
<g id="inset">
<rect x="509" y="1833.6" width="763.3" height="546.9" fill="#fff" stroke="#2e2e2e" stroke-width="4.6"/>
<path d="M509 2288.95H520.5M509 2197.4H520.5M509 2105.85H520.5M509 2014.3H520.5M509 1922.75H520.5M617.6 2380.5V2370M727.2 2380.5V2370M836.8 2380.5V2370M946.4 2380.5V2370M1056 2380.5V2370M1165.6 2380.5V2370" stroke="#2e2e2e" stroke-width="3.6" fill="none"/>
<path d="M509 2334.72H515.5M509 2243.18H515.5M509 2151.62H515.5M509 2060.08H515.5M509 1968.53H515.5M509 1876.98H515.5" stroke="#2e2e2e" stroke-width="3.4" fill="none"/>
<text class="sb" x="444.41" y="2391.5" font-size="35" style="fill:#0a0a0a">-10</text><path d="M457.07 2387.33H463.89V2392.9H457.07ZM469.39 2387.33H475.76V2392.9H469.39Z" fill="#fff"/>
<text class="sb" x="463.88" y="2301.95" font-size="35" style="fill:#0a0a0a">-5</text>
<text class="sb" x="475.53" y="2210.4" font-size="35" style="fill:#0a0a0a">0</text>
<text class="sb" x="475.53" y="2118.85" font-size="35" style="fill:#0a0a0a">5</text>
<text class="sb" x="456.07" y="2027.3" font-size="35" style="fill:#0a0a0a">10</text><path d="M457.07 2023.13H463.89V2028.7H457.07ZM469.39 2023.13H475.76V2028.7H469.39Z" fill="#fff"/>
<text class="sb" x="456.07" y="1935.75" font-size="35" style="fill:#0a0a0a">15</text><path d="M457.07 1931.58H463.89V1937.15H457.07ZM469.39 1931.58H475.76V1937.15H469.39Z" fill="#fff"/>
<text class="sb" x="456.07" y="1844.2" font-size="35" style="fill:#0a0a0a">20</text>
<text class="sb" x="480.56" y="2431" font-size="35" style="fill:#0a0a0a">10<tspan font-size="21.5" dx="2" dy="-21">0</tspan></text><path d="M481.56 2426.83H488.37V2432.4H481.56ZM493.88 2426.83H500.25V2432.4H493.88Z" fill="#fff"/>
<text class="sb" x="590.16" y="2431" font-size="35" style="fill:#0a0a0a">10<tspan font-size="21.5" dx="2" dy="-21">1</tspan></text><path d="M591.16 2426.83H597.97V2432.4H591.16ZM603.48 2426.83H609.85V2432.4H603.48ZM631.24 2407.21H635.75V2411.4H631.24ZM639.4 2407.21H643.65V2411.4H639.4Z" fill="#fff"/>
<text class="sb" x="699.76" y="2431" font-size="35" style="fill:#0a0a0a">10<tspan font-size="21.5" dx="2" dy="-21">2</tspan></text><path d="M700.76 2426.83H707.57V2432.4H700.76ZM713.08 2426.83H719.45V2432.4H713.08Z" fill="#fff"/>
<text class="sb" x="809.36" y="2431" font-size="35" style="fill:#0a0a0a">10<tspan font-size="21.5" dx="2" dy="-21">3</tspan></text><path d="M810.36 2426.83H817.17V2432.4H810.36ZM822.68 2426.83H829.05V2432.4H822.68Z" fill="#fff"/>
<text class="sb" x="918.96" y="2431" font-size="35" style="fill:#0a0a0a">10<tspan font-size="21.5" dx="2" dy="-21">4</tspan></text><path d="M919.96 2426.83H926.77V2432.4H919.96ZM932.28 2426.83H938.65V2432.4H932.28Z" fill="#fff"/>
<text class="sb" x="1028.56" y="2431" font-size="35" style="fill:#0a0a0a">10<tspan font-size="21.5" dx="2" dy="-21">5</tspan></text><path d="M1029.56 2426.83H1036.37V2432.4H1029.56ZM1041.88 2426.83H1048.25V2432.4H1041.88Z" fill="#fff"/>
<text class="sb" x="1138.16" y="2431" font-size="35" style="fill:#0a0a0a">10<tspan font-size="21.5" dx="2" dy="-21">6</tspan></text><path d="M1139.16 2426.83H1145.97V2432.4H1139.16ZM1151.48 2426.83H1157.85V2432.4H1151.48Z" fill="#fff"/>
<text class="sb" x="1247.76" y="2431" font-size="35" style="fill:#0a0a0a">10<tspan font-size="21.5" dx="2" dy="-21">7</tspan></text><path d="M1248.76 2426.83H1255.57V2432.4H1248.76ZM1261.08 2426.83H1267.45V2432.4H1261.08Z" fill="#fff"/>
<text class="sb" x="809" y="2470.5" font-size="38.5" textLength="163" lengthAdjust="spacingAndGlyphs" style="fill:#0a0a0a">Time (s)</text>
<text class="sb" transform="translate(432.5 2308.5) rotate(-90)" font-size="45" textLength="450" lengthAdjust="spacingAndGlyphs" style="fill:#0a0a0a">Threshold Voltage (V)</text>
<path d="M513 1992L1262 2014.5M513 2245.2H1270" stroke="#e8303c" stroke-width="4" stroke-dasharray="3.6 3.4" fill="none"/>
<g id="inset-erase"><circle cx="617.6" cy="1995.2" r="8.6" fill="url(#gP)"/><circle cx="727" cy="1998.3" r="8.6" fill="url(#gP)"/><circle cx="803.5" cy="2000.3" r="8.6" fill="url(#gP)"/><circle cx="836.2" cy="2000.3" r="8.6" fill="url(#gP)"/><circle cx="879.9" cy="2000.8" r="8.6" fill="url(#gP)"/><circle cx="912.8" cy="2003.4" r="8.6" fill="url(#gP)"/><circle cx="931.9" cy="2000.2" r="8.6" fill="url(#gP)"/><circle cx="946.3" cy="2000.8" r="8.6" fill="url(#gP)"/></g>
<g id="inset-prog"><circle cx="617.6" cy="2245.2" r="8.6" fill="url(#gN)"/><circle cx="727" cy="2245.2" r="8.6" fill="url(#gN)"/><circle cx="803.5" cy="2245.2" r="8.6" fill="url(#gN)"/><circle cx="836.2" cy="2245" r="8.6" fill="url(#gN)"/><circle cx="879.9" cy="2245" r="8.6" fill="url(#gN)"/><circle cx="912.8" cy="2244.6" r="8.6" fill="url(#gN)"/><circle cx="931.9" cy="2244" r="8.6" fill="url(#gN)"/><circle cx="946.3" cy="2241.5" r="8.6" fill="url(#gN)"/></g>
<path d="M513 1992L1262 2014.5M513 2245.2H1270" stroke="#e8303c" stroke-width="3.6" stroke-dasharray="3.6 3.4" fill="none" opacity="0.8"/>
<circle cx="829.9" cy="1865.6" r="9.4" fill="url(#gP)"/><circle cx="829.9" cy="1918.9" r="9.4" fill="url(#gN)"/>
<text class="sr" x="890" y="1880" font-size="41.5" textLength="254" lengthAdjust="spacing" style="fill:#1a1a1a;stroke:#1a1a1a;stroke-width:0.5">Erasing state</text>
<text class="sr" x="890" y="1933.8" font-size="41.5" textLength="370" lengthAdjust="spacing" style="fill:#1a1a1a;stroke:#1a1a1a;stroke-width:0.5">Programming state</text>
</g>
</g>
</svg>
</body>
</html>
